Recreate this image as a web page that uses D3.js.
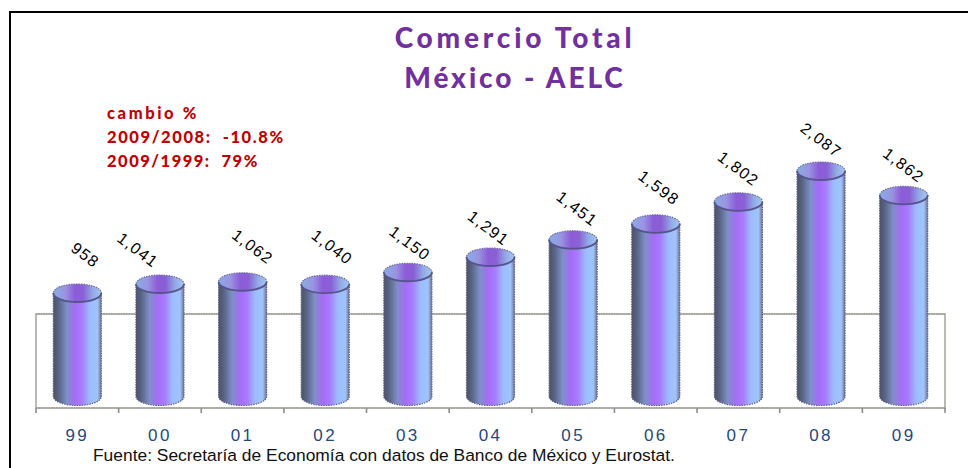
<!DOCTYPE html>
<html>
<head>
<meta charset="utf-8">
<script src="https://cdn.jsdelivr.net/npm/d3@7"></script>
<style>
  html, body { margin: 0; padding: 0; background: #fff; }
  svg { display: block; }
</style>
</head>
<body>
<div class="canvas"></div>
<script>
const years = ["99", "00", "01", "02", "03", "04", "05", "06", "07", "08", "09"];
const values = [958, 1041, 1062, 1040, 1150, 1291, 1451, 1598, 1802, 2087, 1862];
const valueLabels = ["958", "1,041", "1,062", "1,040", "1,150", "1,291", "1,451", "1,598", "1,802", "2,087", "1,862"];
const titleLines = ["Comercio Total", "México - AELC"];
const titleSpacing = [3.8, 2.9];
const changeLines = ["cambio %", "2009/2008:  -10.8%", "2009/1999:  79%"];
const changeSpacing = [2.6, 1.6, 1.5];
const source = "Fuente: Secretaría de Economía con datos de Banco de México y Eurostat.";
// the labels don't sit evenly over the bars in the original
const labelNudgeX = [8, -22, 10, 7, 2, -2, 4, 3, 0, 0, 0];
const labelNudgeY = [-38, -34, -35, -37, -29, -29, -31, -36, -33, -31, -30];

const svg = d3.select(".canvas").append("svg").attr("width", 968).attr("height", 468);
const defs = svg.append("defs");

let addGradient = (id, stops) => {
  defs
    .append("linearGradient")
    .attr("id", id)
    .selectAll("stop")
    .data(stops)
    .join("stop")
    .attr("offset", (d) => d[0])
    .attr("stop-color", (d) => d[1]);
};
addGradient("side", [
  [0, "#4a5268"],
  [0.1, "#566380"],
  [0.28, "#7f8fc8"],
  [0.45, "#a56cf8"],
  [0.6, "#a87cff"],
  [0.76, "#9cbcff"],
  [0.92, "#a0c4fa"],
  [1, "#6f7298"],
]);
addGradient("cap", [
  [0, "#88acE4"],
  [0.25, "#9a94e0"],
  [0.45, "#8c5cd8"],
  [0.62, "#8a60d4"],
  [0.82, "#92aae6"],
  [1, "#a4c8f0"],
]);

let xScale = d3.scaleBand().domain(years).range([36, 945]);
let yScale = d3.scaleLinear().domain([0, 2087]).range([396.5, 171]);
let barWidth = 48;
let capRy = 9;

// frame, open on the right
svg
  .append("path")
  .attr("d", "M10,468V12H968")
  .attr("fill", "none")
  .attr("stroke", "#000")
  .attr("stroke-width", 2);

// back wall of the chart
svg
  .append("path")
  .attr("d", "M36,408V314H945V408Z")
  .attr("fill", "#fff")
  .attr("stroke", "#a8a8a0")
  .attr("stroke-width", 1.6);
svg
  .append("path")
  .attr("d", "M36,314H945M36,408H945")
  .attr("fill", "none")
  .attr("stroke", "#8c8c84")
  .attr("stroke-width", 1.2)
  .attr("stroke-dasharray", "1.5 1");

// ticks sit on the band edges
let tickEdges = years.map((y) => xScale(y)).concat([xScale.range()[1]]);
svg
  .selectAll("line.tick-edge")
  .data(tickEdges)
  .join("line")
  .attr("class", "tick-edge")
  .attr("x1", (d) => d)
  .attr("x2", (d) => d)
  .attr("y1", 408)
  .attr("y2", 413)
  .attr("stroke", "#8c8c8c")
  .attr("stroke-width", 1.6);

let axis = svg
  .append("g")
  .attr("transform", "translate(0,408)")
  .call(d3.axisBottom(xScale).tickSize(0).tickPadding(21));
axis.select(".domain").remove();
axis
  .selectAll("text")
  .style("font-family", "'Liberation Sans', Arial, sans-serif")
  .style("font-size", "17px")
  .style("letter-spacing", "2.4px")
  .attr("fill", "#1f497d");

// cylinders
let bars = svg
  .selectAll("g.bar")
  .data(values)
  .join("g")
  .attr("class", "bar")
  .attr("transform", (d, i) => `translate(${xScale(years[i]) + xScale.bandwidth() / 2},0)`);

bars
  .append("path")
  .attr("d", (d) => {
    let r = barWidth / 2;
    let top = yScale(d);
    let bottom = yScale(0);
    return `M${-r},${top}V${bottom}A${r},${capRy} 0 0 0 ${r},${bottom}V${top}Z`;
  })
  .attr("fill", "url(#side)")
  .attr("stroke", "#5e5e84")
  .attr("stroke-width", 1.2)
  .attr("stroke-dasharray", "1.5 1");

// top of the cylinder: fuzzy back edge, solid front rim
bars
  .append("ellipse")
  .attr("cy", (d) => yScale(d))
  .attr("rx", barWidth / 2)
  .attr("ry", capRy)
  .attr("fill", "url(#cap)")
  .attr("stroke", "#6e6ea0")
  .attr("stroke-width", 1.2)
  .attr("stroke-dasharray", "1.5 1");

bars
  .append("path")
  .attr("d", (d) => {
    let r = barWidth / 2;
    let top = yScale(d);
    return `M${-r},${top}A${r},${capRy} 0 0 0 ${r},${top}`;
  })
  .attr("fill", "none")
  .attr("stroke", "#55558c")
  .attr("stroke-width", 1.8);

// value labels, tilted
svg
  .selectAll("text.value")
  .data(values)
  .join("text")
  .attr("class", "value")
  .attr("text-anchor", "middle")
  .attr("dominant-baseline", "central")
  .attr("transform", (d, i) => {
    let x = xScale(years[i]) + xScale.bandwidth() / 2 + labelNudgeX[i];
    let y = yScale(d) + labelNudgeY[i];
    return `translate(${x},${y}) rotate(37)`;
  })
  .style("font-family", "'Liberation Sans', Arial, sans-serif")
  .style("font-size", "16px")
  .style("letter-spacing", "1.3px")
  .attr("fill", "#000")
  .text((d, i) => valueLabels[i]);

// title
svg
  .selectAll("text.title")
  .data(titleLines)
  .join("text")
  .attr("class", "title")
  .attr("x", 515)
  .attr("y", (d, i) => 48 + i * 40)
  .attr("text-anchor", "middle")
  .style("font-family", "Lato, sans-serif")
  .style("font-weight", 900)
  .style("font-size", "28px")
  .style("letter-spacing", (d, i) => titleSpacing[i] + "px")
  .attr("fill", "#7030a0")
  .text((d) => d);

// change note
svg
  .selectAll("text.change")
  .data(changeLines)
  .join("text")
  .attr("class", "change")
  .attr("x", 107)
  .attr("y", (d, i) => 119 + i * 24)
  .style("font-family", "Lato, sans-serif")
  .style("font-weight", 900)
  .style("font-size", "16.5px")
  .style("letter-spacing", (d, i) => changeSpacing[i] + "px")
  .style("white-space", "pre")
  .attr("fill", "#c00000")
  .text((d) => d);

svg
  .append("text")
  .attr("x", 93)
  .attr("y", 461)
  .style("font-family", "'Liberation Sans', Arial, sans-serif")
  .style("font-size", "17.4px")
  .attr("fill", "#111")
  .text(source);
</script>
</body>
</html>
